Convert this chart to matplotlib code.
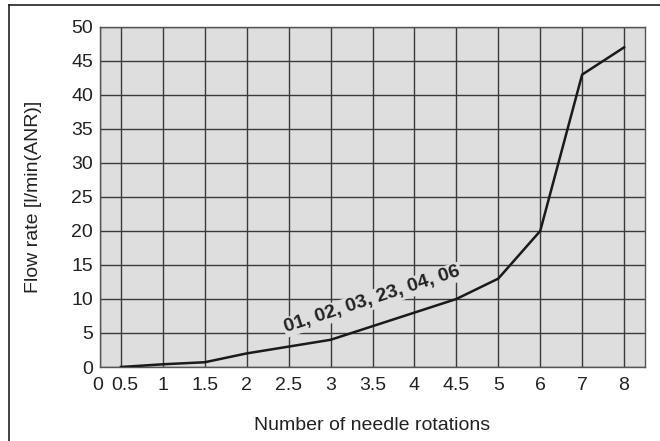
import numpy as np
import matplotlib.pyplot as plt
import matplotlib.transforms as mtransforms
from matplotlib.lines import Line2D

plt.rcParams['font.family'] = ['Liberation Sans', 'DejaVu Sans']

# tick labels of the needle rotation axis (non-linear spacing: 0 and 0.5 squeezed)
tick_labels = ["0", "0.5", "1", "1.5", "2", "2.5", "3", "3.5", "4", "4.5", "5", "6", "7", "8"]
tick_pos = [0, 0.5, 1.5, 2.5, 3.5, 4.5, 5.5, 6.5, 7.5, 8.5, 9.5, 10.5, 11.5, 12.5]
# flow rate for each rotation from 0.5 to 8
flow = [0, 0.4, 0.7, 2, 3, 4, 6, 8, 10, 13, 20, 43, 47]
label_txt = "01, 02, 03, 23, 04, 06"

bg = '#dedede'
gridc = '#3a3a3a'

fig = plt.figure(figsize=(6.6, 4.41), dpi=100)
ax = fig.add_axes([0.1515, 0.1678, 0.8258, 0.771])
ax.set_facecolor(bg)

ax.plot(tick_pos[1:], flow, color='#1a1a1a', lw=1.8, zorder=3)

ax.set_xlim(0, 13)
ax.set_ylim(0, 50)
ax.set_xticks(tick_pos)
ax.set_xticklabels(tick_labels)
ax.set_yticks(np.arange(0, 51, 5))
ax.tick_params(length=0, labelsize=14, colors='#222222')
ax.tick_params(axis='y', pad=5)
ax.tick_params(axis='x', pad=7)
ax.grid(True, color=gridc, lw=1.0, zorder=1)
ax.set_axisbelow(True)
for s in ax.spines.values():
    s.set_color('#555555')
    s.set_linewidth(1.0)

# nudge the crowded "0" and "0.5" labels apart
xl = ax.get_xticklabels()
xl[0].set_transform(xl[0].get_transform() + mtransforms.ScaledTranslation(-1.5 / 72, 0, fig.dpi_scale_trans))
xl[1].set_transform(xl[1].get_transform() + mtransforms.ScaledTranslation(2.5 / 72, 0, fig.dpi_scale_trans))

ax.set_xlabel("Number of needle rotations", fontsize=14, labelpad=17, color='#222222')
ax.set_ylabel("Flow rate [l/min(ANR)]", fontsize=14, labelpad=21, color='#222222')

ax.text(6.5, 9.9, label_txt, rotation=18, ha='center', va='center',
        fontsize=14, fontweight='bold', color='#222222', zorder=4,
        bbox=dict(facecolor=bg, edgecolor='none', pad=1.0))

# L-shaped frame around the figure (top and left only)
fig.add_artist(Line2D([0.0136, 1.0], [0.9887, 0.9887], color='#222222', lw=1.2))
fig.add_artist(Line2D([0.0136, 0.0136], [0.0, 0.9887], color='#222222', lw=1.2))

fig.savefig('out.png', dpi=100)
